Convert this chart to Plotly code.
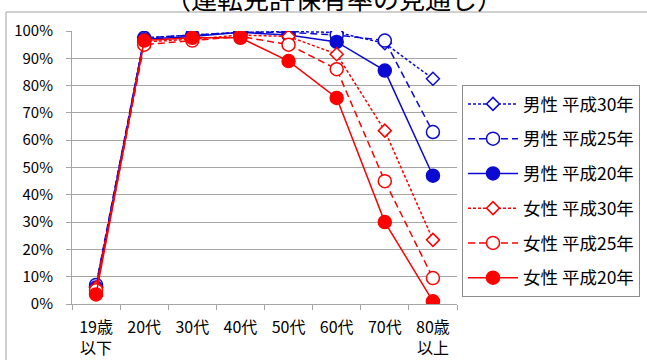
import plotly.graph_objects as go

categories = ["19歳<br>以下", "20代", "30代", "40代", "50代", "60代", "70代", "80歳<br>以上"]

male_h30 = [0.065, 0.975, 0.985, 0.995, 0.998, 0.995, 0.955, 0.825]
male_h25 = [0.070, 0.975, 0.985, 0.995, 0.995, 0.985, 0.965, 0.630]
male_h20 = [0.060, 0.970, 0.980, 0.995, 0.985, 0.960, 0.855, 0.470]
female_h30 = [0.060, 0.960, 0.970, 0.985, 0.980, 0.915, 0.635, 0.235]
female_h25 = [0.050, 0.950, 0.965, 0.980, 0.950, 0.860, 0.450, 0.095]
female_h20 = [0.035, 0.965, 0.975, 0.975, 0.890, 0.755, 0.300, 0.010]

names = ["男性 平成30年", "男性 平成25年", "男性 平成20年",
         "女性 平成30年", "女性 平成25年", "女性 平成20年"]
title_text = "（運転免許保有率の見通し）"

BLUE = "#0a0ad2"
RED = "#ff0000"
GRID = "#a6a6a6"
FONT = "Noto Sans CJK JP"

series = [male_h30, male_h25, male_h20, female_h30, female_h25, female_h20]
styles = [
    (BLUE, "3px,2px", "diamond-open", 10),
    (BLUE, "7px,4px", "circle-open", 13),
    (BLUE, "solid", "circle", 13),
    (RED, "3px,2px", "diamond-open", 10),
    (RED, "7px,4px", "circle-open", 13),
    (RED, "solid", "circle", 13),
]

fig = go.Figure()
for i, (vals, name, (col, dash, sym, sz)) in enumerate(zip(series, names, styles)):
    open_m = sym.endswith("open")
    fig.add_trace(go.Scatter(
        x=categories, y=vals, name=name, mode="lines+markers",
        legendgroup=f"g{i}",
        line=dict(color=col, width=1.5, dash=dash),
        marker=dict(symbol=sym.replace("-open", "") if open_m else sym,
                    size=sz,
                    color="white" if open_m else col,
                    line=dict(color=col, width=1.5)),
    ))

fig.update_layout(
    width=647, height=360,
    margin=dict(l=72, r=190, t=31, b=56, autoexpand=False),
    plot_bgcolor="white", paper_bgcolor="white",
    font=dict(family=FONT, color="#000000"),
    showlegend=True,
    legend=dict(
        x=(462 - 72) / 385, xanchor="left",
        y=(304 - 85) / 273, yanchor="top",
        bordercolor="#8c8c8c", borderwidth=1,
        bgcolor="white",
        font=dict(family=FONT, size=17.5, color="#000000"),
        itemwidth=50,
        tracegroupgap=9,
    ),
    xaxis=dict(
        type="category", tickson="boundaries", ticks="outside", ticklen=5,
        tickcolor=GRID, showline=True, linecolor=GRID, linewidth=1,
        showgrid=False, tickfont=dict(size=16, family=FONT),
        range=[-0.5, 7.5], automargin=False, ticklabelstandoff=9,
    ),
    yaxis=dict(
        range=[0, 1], dtick=0.1, tickformat=".0%",
        showgrid=True, gridcolor=GRID, gridwidth=1.2,
        ticks="outside", ticklen=5, tickcolor=GRID,
        showline=True, linecolor=GRID, linewidth=1,
        zeroline=False, tickfont=dict(size=15, family=FONT),
        ticklabelstandoff=10, automargin=False,
    ),
    shapes=[dict(
        type="rect", xref="paper", yref="paper",
        x0=(6 - 72) / 385, x1=2.0, y0=-1.0, y1=(304 - 12) / 273,
        line=dict(color="#a0a0a0", width=1), fillcolor="rgba(0,0,0,0)",
        layer="below",
    )],
    annotations=[dict(
        text=title_text, xref="paper", yref="paper",
        x=(334 - 72) / 385, y=(304 + 3) / 273,
        xanchor="center", yanchor="middle", showarrow=False,
        font=dict(family=FONT, size=26, color="#000000"),
    )],
)

fig.write_html(
    "out.html",
    config={"displayModeBar": False},
    post_script="document.body.style.margin='0';document.body.style.overflow='hidden';",
)
